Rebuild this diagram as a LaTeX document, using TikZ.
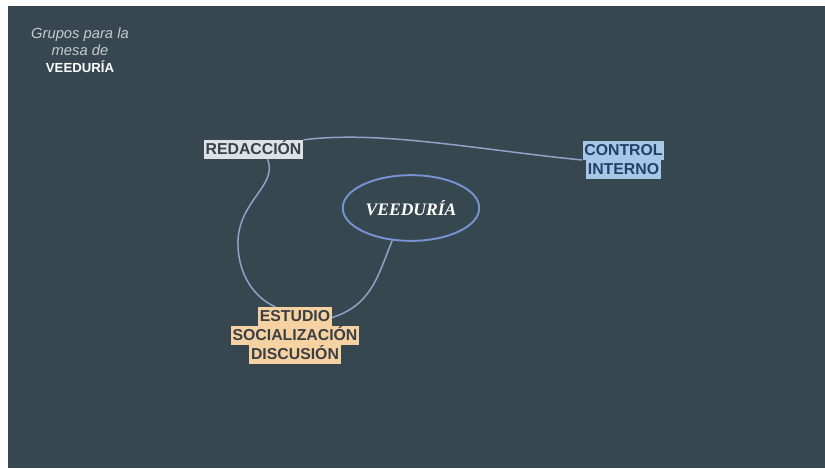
\documentclass[tikz,border=0pt]{standalone}
\usepackage{fontspec}
\setmainfont{Liberation Sans}
\newfontfamily\veedfont{Liberation Serif}
\usepackage{xcolor}
\usepackage{tikz}
\usetikzlibrary{shapes.geometric, positioning}
\definecolor{slate}{HTML}{37474F}
\definecolor{titlegray}{HTML}{C3CBD0}
\definecolor{redgray}{HTML}{DCE2E6}
\definecolor{ctrlblue}{HTML}{A7C7E7}
\definecolor{peach}{HTML}{F6D2A2}
\definecolor{navy}{HTML}{23406B}
\definecolor{darktext}{HTML}{3A3F44}
\definecolor{ringblue}{HTML}{7893D4}
\definecolor{linkblue}{HTML}{8EA4C9}
\setlength{\fboxsep}{1pt}
\newcommand{\hlline}[2]{\colorbox{#1}{\rule[-1.6pt]{0pt}{8.6pt}\smash{#2}}}

\begin{document}
\begin{tikzpicture}[x=0.02cm, y=-0.02cm]
\tikzstyle{tag} = [inner sep=0pt, font=\fontsize{9}{10.7}\selectfont\bfseries, align=center]
\tikzstyle{link} = [draw=linkblue, line width=0.85pt]
\useasboundingbox (0,0) rectangle (825,468);
\fill [slate] (8,6) rectangle (825,468);
\node [text=titlegray, font=\fontsize{8.4}{9.6}\selectfont\itshape, align=center] (title) at (80,50) {Grupos para la\\ mesa de\\ {\upshape\bfseries\fontsize{7.5}{9.6}\selectfont\color{white}VEEDURÍA}};
\node [ellipse, draw=ringblue, line width=1.1pt, minimum width=77.7pt, minimum height=37.4pt, inner sep=0pt, text=white, font=\veedfont\bfseries\itshape\fontsize{10}{12}\selectfont] (veeduria) at (411,208) {VEEDURÍA};
\node [tag, text=darktext] (redaccion) at (253.5,149.5) {\hlline{redgray}{REDACCIÓN}};
\node [tag, text=navy] (control) at (623.5,160) {\hlline{ctrlblue}{CONTROL}\\ \hlline{ctrlblue}{INTERNO}};
\node [tag, text=darktext] (estudio) at (295,335.5) {\hlline{peach}{ESTUDIO}\\ \hlline{peach}{SOCIALIZACIÓN}\\ \hlline{peach}{DISCUSIÓN}};
\path [link] (redaccion.north east) .. controls (380,130) and (480,150) .. (control.west);
\path [link] ([xshift=8pt]redaccion.south) .. controls (278,185) and (240,200) .. (238,240) .. controls (237,275) and (255,298) .. ([xshift=-11pt]estudio.north);
\path [link] (veeduria.240) .. controls (378,275) and (372,305) .. ([xshift=21pt,yshift=-6pt]estudio.north);
\end{tikzpicture}
\end{document}
